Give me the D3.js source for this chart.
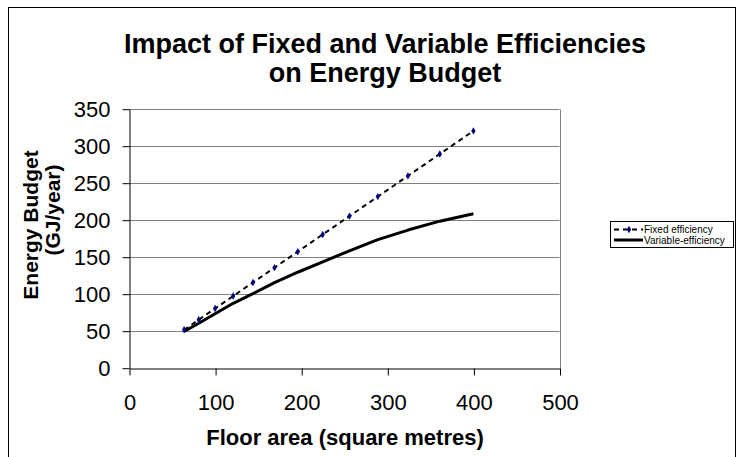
<!DOCTYPE html>
<html><head><meta charset="utf-8">
<script src="https://cdn.jsdelivr.net/npm/d3@7"></script>
<style>
html,body{margin:0;padding:0;background:#fff;}
svg{display:block;font-family:"Liberation Sans",Arial,sans-serif;}
</style></head>
<body>
<svg id="chart" width="746" height="457"></svg>
<script>
// ---- data ----
const areas = [64, 81, 100, 121, 144, 169, 196, 225, 256, 289, 324, 361, 400];
const fixedEfficiency = [51.2, 64.8, 80, 96.8, 115.2, 135.2, 156.8, 180, 204.8, 231.2, 259.2, 288.8, 320];
const variableEfficiency = [49, 60, 73, 87, 100, 115, 129, 143, 158, 173, 186, 198, 208];
const xTicks = [0, 100, 200, 300, 400, 500];
const yTicks = [0, 50, 100, 150, 200, 250, 300, 350];
const seriesNames = ["Fixed efficiency", "Variable-efficiency"];
const titleLines = ["Impact of Fixed and Variable Efficiencies", "on Energy Budget"];
const xTitle = "Floor area (square metres)";
const yTitleLines = ["Energy Budget", "(GJ/year)"];

const svg = d3.select("#chart");
// outer frame
svg.append("rect").attr("x", 8.5).attr("y", 7.5).attr("width", 727).attr("height", 470)
  .attr("fill", "#fff").attr("stroke", "#000").attr("stroke-width", 1);

const x = d3.scaleLinear().domain([0, 500]).range([129, 559.5]);
const y = d3.scaleLinear().domain([0, 350]).range([367.7, 108.7]);

// gridlines
svg.append("g").selectAll("line").data(yTicks.filter(d => d > 0)).join("line")
  .attr("x1", x(0)).attr("x2", x(500))
  .attr("y1", d => Math.round(y(d)) + 0.5).attr("y2", d => Math.round(y(d)) + 0.5)
  .attr("stroke", "#808080").attr("stroke-width", 1);
// right border of plot
svg.append("line").attr("x1", Math.round(x(500)) + 0.5).attr("x2", Math.round(x(500)) + 0.5)
  .attr("y1", Math.round(y(350)) + 0.5).attr("y2", Math.round(y(0)) + 0.5)
  .attr("stroke", "#808080");

// axes
const yAxis = svg.append("g").attr("transform", `translate(${Math.round(x(0)) + 0.5},0.5)`)
  .call(d3.axisLeft(y).tickValues(yTicks).tickSize(7).tickPadding(12).tickSizeOuter(0));
const xAxis = svg.append("g").attr("transform", `translate(0.5,${Math.round(y(0)) + 0.5})`)
  .call(d3.axisBottom(x).tickValues(xTicks).tickSize(7).tickPadding(19).tickSizeOuter(0));
[yAxis, xAxis].forEach(g => {
  g.select(".domain").attr("stroke", "#000");
  g.selectAll(".tick line").attr("stroke", "#000");
  g.selectAll(".tick text").attr("font-size", 22).attr("fill", "#000")
    .attr("font-family", "'Liberation Sans', Arial, sans-serif");
});

// series
const pts = (vals) => areas.map((a, i) => [a, vals[i]]);
const line = d3.line().x(d => x(d[0])).y(d => y(d[1]));
svg.append("path").datum(pts(variableEfficiency)).attr("d", line)
  .attr("fill", "none").attr("stroke", "#000").attr("stroke-width", 3).attr("stroke-linejoin", "round");
svg.append("path").datum(pts(fixedEfficiency)).attr("d", line)
  .attr("fill", "none").attr("stroke", "#000").attr("stroke-width", 2).attr("stroke-dasharray", "5,4");
const diamond = d3.symbol().type(d3.symbolDiamond).size(16);
svg.append("g").selectAll("path").data(pts(fixedEfficiency)).join("path")
  .attr("d", diamond).attr("transform", d => `translate(${x(d[0])},${y(d[1])})`)
  .attr("fill", "#000080");

// titles
svg.append("text").attr("text-anchor", "middle").attr("font-weight", "bold")
  .attr("font-size", 27).selectAll("tspan").data(titleLines).join("tspan")
  .attr("x", 385).attr("y", (d, i) => 53 + i * 29).text(d => d);
svg.append("text").attr("x", 345).attr("y", 445).attr("text-anchor", "middle")
  .attr("font-weight", "bold").attr("font-size", 22).text(xTitle);
const yTitleCenters = [225, 210];
yTitleLines.forEach((t, i) => {
  svg.append("text").attr("transform", `translate(${38 + i * 22},${yTitleCenters[i]}) rotate(-90)`)
    .attr("text-anchor", "middle").attr("font-weight", "bold").attr("font-size", 21).text(t);
});

// legend
const lg = svg.append("g");
lg.append("rect").attr("x", 610.5).attr("y", 221.5).attr("width", 123).attr("height", 26)
  .attr("fill", "#fff").attr("stroke", "#000");
const legY = [229.5, 240];
lg.append("line").attr("x1", 614).attr("x2", 643).attr("y1", legY[0]).attr("y2", legY[0])
  .attr("stroke", "#000").attr("stroke-width", 2).attr("stroke-dasharray", "5,4");
lg.append("path").attr("d", diamond).attr("transform", `translate(629,${legY[0]})`).attr("fill", "#000080");
lg.append("line").attr("x1", 614).attr("x2", 643).attr("y1", legY[1]).attr("y2", legY[1])
  .attr("stroke", "#000").attr("stroke-width", 3);
lg.selectAll("text.l").data(seriesNames).join("text").attr("class", "l")
  .attr("x", 644).attr("y", (d, i) => legY[i] + 3.5).attr("font-size", 10).text(d => d);
</script>
</body></html>
